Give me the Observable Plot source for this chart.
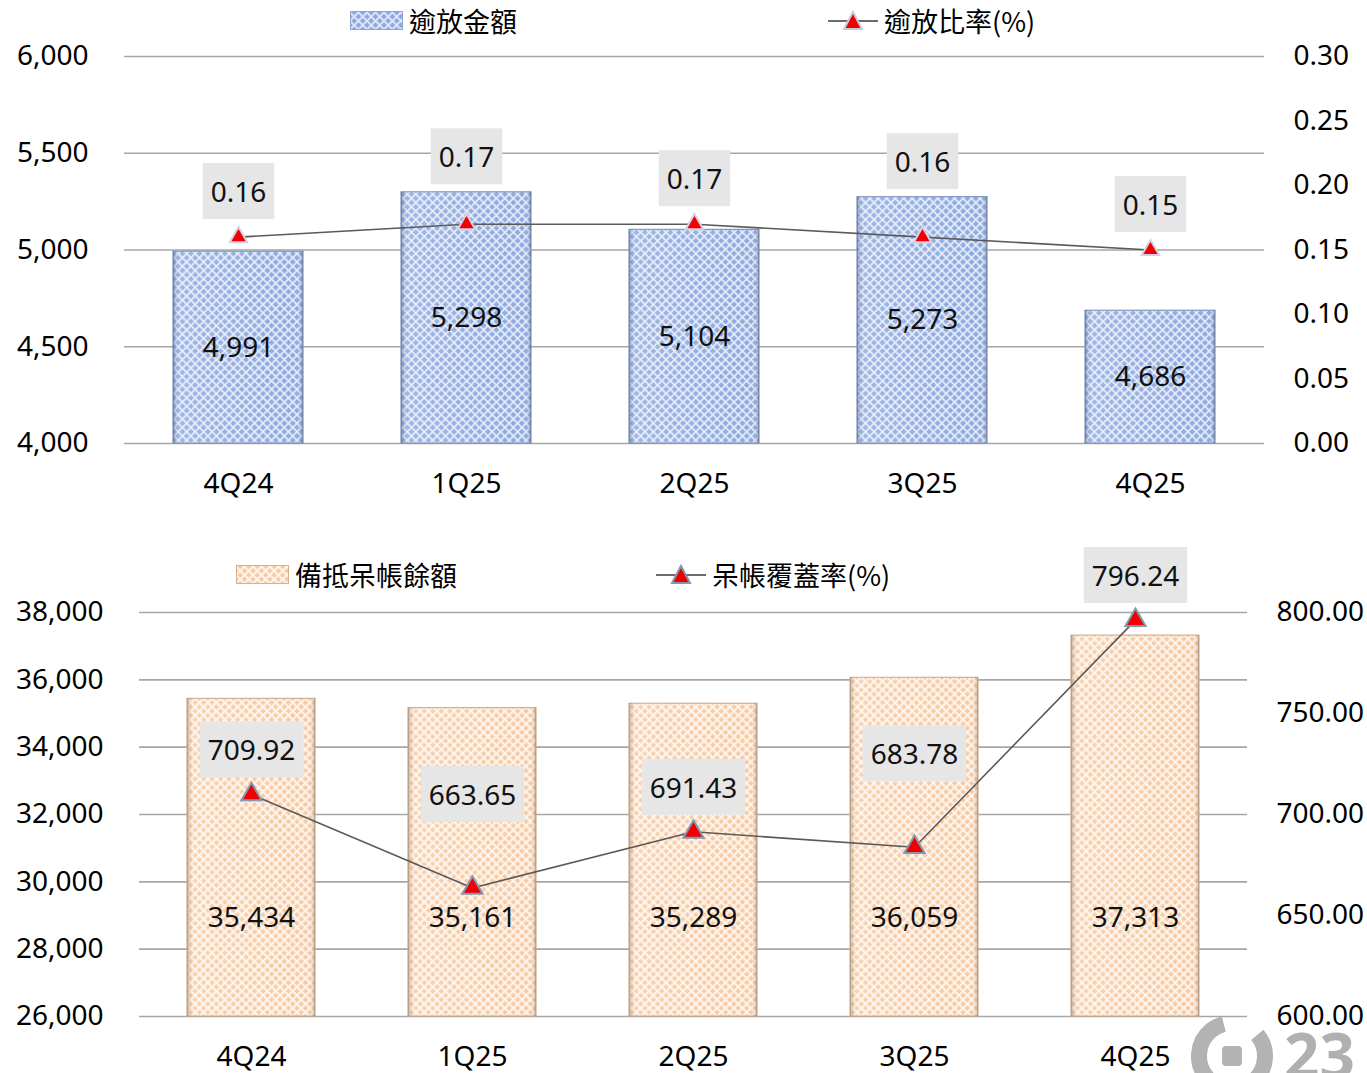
<!DOCTYPE html>
<html>
<head>
<meta charset="utf-8">
<script src="https://cdn.jsdelivr.net/npm/d3@7"></script>
<script src="https://cdn.jsdelivr.net/npm/@observablehq/plot@0.6"></script>
<style>
  body { margin: 0; background: #fff; font-family: "Noto Sans", "Noto Sans CJK TC", sans-serif; color: #000; }
  #wrap { position: relative; width: 1367px; height: 1073px; overflow: hidden; }
  .legend { position: relative; width: 1367px; }
  .litem { position: absolute; display: flex; align-items: center; font-size: 27px; font-family: "Noto Sans CJK TC", "Noto Sans", sans-serif; white-space: nowrap; }
  .litem svg { display: block; margin-right: 6px; }
  #chart1, #chart2 { position: relative; }
  #chart1 svg, #chart2 svg { display: block; overflow: visible; }
  #mark { position: absolute; left: 1180px; top: 1012px; }
</style>
</head>
<body>
<svg width="0" height="0" style="position:absolute">
  <defs>
    <pattern id="blueHatch" patternUnits="userSpaceOnUse" width="6" height="6" patternTransform="rotate(45)">
      <rect width="6" height="6" fill="#8fa9de"/>
      <rect x="0" y="0" width="2" height="6" fill="#e4ecfa" fill-opacity="0.85"/>
      <rect x="0" y="0" width="6" height="2" fill="#e4ecfa" fill-opacity="0.85"/>
    </pattern>
    <pattern id="peachHatch" patternUnits="userSpaceOnUse" width="6" height="6" patternTransform="rotate(45)">
      <rect width="6" height="6" fill="#f6c9a2"/>
      <rect x="0" y="0" width="2.2" height="6" fill="#fff6ee" fill-opacity="0.9"/>
      <rect x="0" y="0" width="6" height="2.2" fill="#fff6ee" fill-opacity="0.9"/>
    </pattern>
    <linearGradient id="bevelBlue" x1="0" x2="1" y1="0" y2="0">
      <stop offset="0" stop-color="#3c4f7a" stop-opacity="0.45"/>
      <stop offset="0.05" stop-color="#ffffff" stop-opacity="0.15"/>
      <stop offset="0.95" stop-color="#ffffff" stop-opacity="0"/>
      <stop offset="1" stop-color="#3c4f7a" stop-opacity="0.45"/>
    </linearGradient>
    <linearGradient id="bevelPeach" x1="0" x2="1" y1="0" y2="0">
      <stop offset="0" stop-color="#7a5a3c" stop-opacity="0.4"/>
      <stop offset="0.05" stop-color="#ffffff" stop-opacity="0.15"/>
      <stop offset="0.95" stop-color="#ffffff" stop-opacity="0"/>
      <stop offset="1" stop-color="#7a5a3c" stop-opacity="0.4"/>
    </linearGradient>
  </defs>
</svg>
<div id="wrap">
  <div class="legend" id="legend1" style="height:40px"></div>
  <div id="chart1"></div>
  <div class="legend" id="legend2" style="height:75px"></div>
  <div id="chart2"></div>
  <svg id="mark" width="187" height="62">
    <circle cx="52" cy="44" r="33" fill="none" stroke="#b3b3b3" stroke-width="16" stroke-dasharray="170 40" transform="rotate(-40 52 44)"/>
    <rect x="42" y="34" width="20" height="20" rx="4" fill="#b3b3b3"/>
    <text x="104" y="66" font-size="62" font-weight="bold" fill="#b0b0b0" font-family="Noto Sans, sans-serif">23</text>
  </svg>
</div>
<script>
// ---- data ----
const quarters = ["4Q24", "1Q25", "2Q25", "3Q25", "4Q25"];
const overdueAmount = [4991, 5298, 5104, 5273, 4686];
const overdueRatio = [0.16, 0.17, 0.17, 0.16, 0.15];
const reserveAmount = [35434, 35161, 35289, 36059, 37313];
const coverageRatio = [709.92, 663.65, 691.43, 683.78, 796.24];
const topLeftTicks = [4000, 4500, 5000, 5500, 6000];
const topRightTicks = [0, 0.05, 0.10, 0.15, 0.20, 0.25, 0.30];
const botLeftTicks = [26000, 28000, 30000, 32000, 34000, 36000, 38000];
const botRightTicks = [600, 650, 700, 750, 800];
const topLegend = ["逾放金額", "逾放比率(%)"];
const botLegend = ["備抵呆帳餘額", "呆帳覆蓋率(%)"];

const FONT = "'Noto Sans', 'Noto Sans CJK TC', sans-serif";

function legend(el, labels, fillId, markerStroke, pos) {
  el.innerHTML = `
    <div class="litem" style="left:${pos.a}px; top:${pos.top}px">
      <svg width="53" height="19"><rect x="0.5" y="0.5" width="52" height="18" fill="url(#${fillId})" stroke="${fillId === 'blueHatch' ? '#8fa3cc' : '#d9b08e'}"/></svg>${labels[0]}
    </div>
    <div class="litem" style="left:${pos.b}px; top:${pos.top}px">
      <svg width="50" height="24"><line x1="0" x2="50" y1="12" y2="12" stroke="#6b6b6b" stroke-width="2"/>
      <path d="M25,3 L34,20 L16,20 Z" fill="#f00000" stroke="${markerStroke}" stroke-width="2"/></svg>${labels[1]}
    </div>`;
}
legend(document.getElementById("legend1"), topLegend, "blueHatch", "#c9c9e0", {a: 350, b: 828, top: 1});
legend(document.getElementById("legend2"), botLegend, "peachHatch", "#8497b0", {a: 236, b: 656, top: 35});

function makeChart(cfg) {
  const {el, values, ratios, L, R, leftTicks, rightTicks, mt, mb, ml, mr, height, padIn, padOut,
         fill, bevel, barStroke, markerStroke, markerR, barLabelY, lineLabelY, fmtR} = cfg;
  const plotH = height - mt - mb;
  const upp = (L[1] - L[0]) / plotH; // data units per pixel on left scale
  const toL = r => L[0] + (r - R[0]) / (R[1] - R[0]) * (L[1] - L[0]);
  const fromL = v => R[0] + (v - L[0]) / (L[1] - L[0]) * (R[1] - R[0]);
  const rows = quarters.map((q, i) => ({q, v: values[i], r: ratios[i], rl: toL(ratios[i]), i}));
  rows.forEach(d => {
    d.by = barLabelY(d, upp, L);
    d.ly = lineLabelY(d, rows, upp);
  });
  const svg = Plot.plot({
    width: 1367, height,
    marginTop: mt, marginBottom: mb, marginLeft: ml, marginRight: mr,
    style: {fontSize: "28px", fontFamily: FONT, color: "#000", background: "transparent", overflow: "visible"},
    x: {type: "band", domain: quarters, paddingInner: padIn, paddingOuter: padOut, label: null},
    y: {domain: L, label: null},
    marks: [
      Plot.gridY(leftTicks, {stroke: "#a6a6a6", strokeOpacity: 1, strokeWidth: 1.6}),
      Plot.barY(rows, {x: "q", y1: L[0], y2: "v", fill, stroke: barStroke, strokeWidth: 1.2}),
      Plot.barY(rows, {x: "q", y1: L[0], y2: "v", fill: bevel}),
      Plot.text(rows, {x: "q", y: "by", text: d => d3.format(",")(d.v), fontSize: 28, fill: "#111"}),
      Plot.line(rows, {x: "q", y: "rl", stroke: "#5a5a5a", strokeWidth: 1.6}),
      Plot.dot(rows, {x: "q", y: "rl", symbol: "triangle", r: markerR, fill: "#f00000", stroke: markerStroke, strokeWidth: 2, fillOpacity: 1}),
      Plot.text(rows, {x: "q", y: "ly", text: d => fmtR(d.r), fontSize: 28, fill: "#111"}),
      Plot.axisY(leftTicks, {anchor: "left", tickSize: 0, tickPadding: 36, tickFormat: d3.format(","), fontSize: 28, label: null}),
      Plot.axisY(rightTicks.map(toL), {anchor: "right", tickSize: 0, tickPadding: 29, tickFormat: d => fromL(d).toFixed(2), fontSize: 28, label: null}),
      Plot.axisX({tickSize: 0, tickPadding: cfg.xPad, fontSize: 28, label: null})
    ]
  });
  el.appendChild(svg);
  // gray label boxes behind the ratio labels (second text mark group)
  const labelStrings = new Set(rows.map(d => fmtR(d.r)));
  const textGroups = Array.from(svg.querySelectorAll('g[aria-label="text"]'));
  const grp = textGroups[1];
  if (grp) {
    grp.querySelectorAll("text").forEach(t => {
      if (!labelStrings.has(t.textContent)) return;
      const b = t.getBBox();
      const r = document.createElementNS("http://www.w3.org/2000/svg", "rect");
      const cy = b.y + b.height / 2;
      r.setAttribute("x", b.x - 8);
      r.setAttribute("width", b.width + 16);
      r.setAttribute("y", cy - 28);
      r.setAttribute("height", 56);
      r.setAttribute("fill", "#e6e6e6");
      const tr = t.getAttribute("transform");
      if (tr) r.setAttribute("transform", tr);
      t.parentNode.insertBefore(r, t);
    });
  }
}

// Top panel
makeChart({
  el: document.getElementById("chart1"),
  values: overdueAmount, ratios: overdueRatio,
  L: [4000, 6000], R: [0, 0.30],
  leftTicks: topLeftTicks, rightTicks: topRightTicks,
  mt: 16, mb: 77, ml: 124, mr: 103, height: 480,
  padIn: 0.43, padOut: 0.215, xPad: 30,
  fill: "url(#blueHatch)", bevel: "url(#bevelBlue)", barStroke: "#8093bd",
  markerStroke: "#d6d0e6", markerR: 6.5,
  barLabelY: (d, upp, L) => (L[0] + d.v) / 2,
  lineLabelY: (d, rows, upp) => Math.max(d.rl + 44 * upp, d.v + 34 * upp),
  fmtR: r => r.toFixed(2)
});

// Bottom panel
makeChart({
  el: document.getElementById("chart2"),
  values: reserveAmount, ratios: coverageRatio,
  L: [26000, 38000], R: [600, 800],
  leftTicks: botLeftTicks, rightTicks: botRightTicks,
  mt: 17, mb: 57, ml: 139, mr: 120, height: 478,
  padIn: 0.42, padOut: 0.21, xPad: 30,
  fill: "url(#peachHatch)", bevel: "url(#bevelPeach)", barStroke: "#cfae90",
  markerStroke: "#8497b0", markerR: 7.5,
  barLabelY: (d, upp, L) => L[0] + 98 * upp,
  lineLabelY: (d, rows, upp) => {
    const prev = rows[d.i - 1], next = rows[d.i + 1];
    const localMin = prev && next && d.r < prev.r && d.r < next.r;
    return d.rl + (localMin ? 92 : 43) * upp;
  },
  fmtR: r => r.toFixed(2)
});
</script>
</body>
</html>
